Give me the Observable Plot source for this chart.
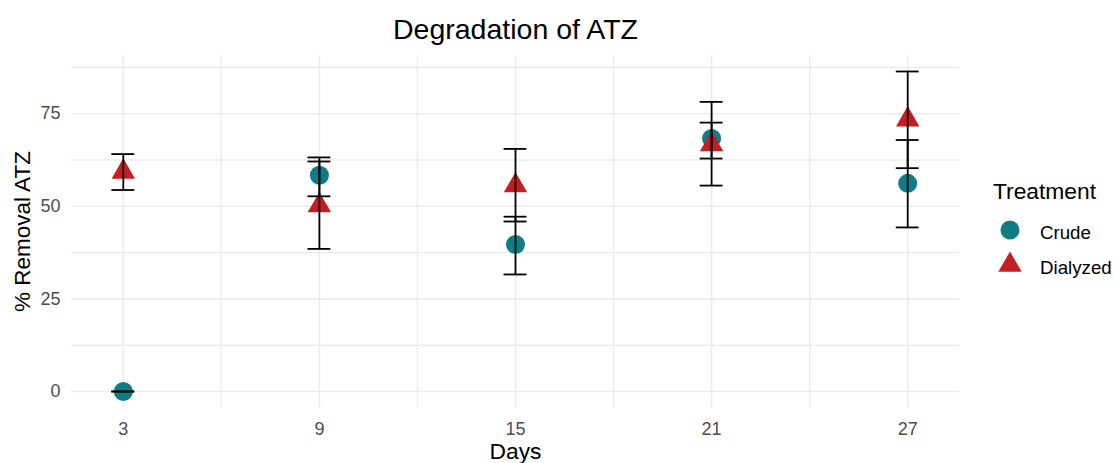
<!DOCTYPE html>
<html>
<head>
<meta charset="utf-8">
<script src="https://cdn.jsdelivr.net/npm/d3@7"></script>
<script src="https://cdn.jsdelivr.net/npm/@observablehq/plot@0.6"></script>
<style>
  html, body { margin: 0; padding: 0; background: white; }
  #chart { position: relative; width: 1114px; height: 463px; overflow: hidden; }
</style>
</head>
<body>
<div id="chart"></div>
<script>
// ---- data ----
const days = [3, 9, 15, 21, 27];
const treatments = ["Crude", "Dialyzed"];
const crudeMean = [0, 58.4, 39.7, 68.3, 56.2];
const crudeLow = [0, 52.7, 31.6, 62.9, 44.3];
const crudeHigh = [0, 63.2, 47.2, 72.6, 67.9];
const dialyzedMean = [59.3, 50.2, 55.6, 66.7, 73.4];
const dialyzedLow = [54.4, 38.5, 45.9, 55.6, 60.3];
const dialyzedHigh = [64.1, 62.1, 65.5, 78.2, 86.4];
const yTicks = [0, 25, 50, 75];
const yMinor = [12.5, 37.5, 62.5, 87.5];
const xTicks = [3, 9, 15, 21, 27];
const xMinor = [6, 12, 18, 24];

const colors = {Crude: "#107C84", Dialyzed: "#C41E24"};
const capHalf = 0.35;

const crude = days.map((d, i) => ({day: d, treatment: "Crude", mean: crudeMean[i], low: crudeLow[i], high: crudeHigh[i]}));
const dialyzed = days.map((d, i) => ({day: d, treatment: "Dialyzed", mean: dialyzedMean[i], low: dialyzedLow[i], high: dialyzedHigh[i]}));
const rows = crude.concat(dialyzed);

const grid = "#ebebeb";
const font = "'Liberation Sans', Arial, Helvetica, sans-serif";

const plot = Plot.plot({
  width: 1114,
  height: 463,
  marginTop: 55,
  marginBottom: 56,
  marginLeft: 71,
  marginRight: 155,
  style: {fontFamily: font, fontSize: "18px", color: "#4d4d4d", background: "white", overflow: "visible"},
  x: {domain: [1.415, 28.585], ticks: xTicks, tickSize: 0, tickPadding: 15, label: null},
  y: {domain: [-4.32, 90.72], ticks: yTicks, tickSize: 0, tickPadding: 11, label: null},
  marks: [
    Plot.ruleY(yMinor, {stroke: grid, strokeWidth: 1.4}),
    Plot.ruleY(yTicks, {stroke: grid, strokeWidth: 1.6}),
    Plot.ruleX(xMinor, {stroke: grid, strokeWidth: 1.4}),
    Plot.ruleX(xTicks, {stroke: grid, strokeWidth: 1.6}),
    Plot.dot(crude, {x: "day", y: "mean", r: 9.5, symbol: "circle", fill: colors.Crude}),
    Plot.dot(dialyzed, {x: "day", y: "mean", r: 8.7, symbol: "triangle", fill: colors.Dialyzed}),
    Plot.ruleX(rows, {x: "day", y1: "low", y2: "high", stroke: "black", strokeWidth: 1.8}),
    Plot.ruleY(rows, {y: "low", x1: d => d.day - capHalf, x2: d => d.day + capHalf, stroke: "black", strokeWidth: 1.8}),
    Plot.ruleY(rows, {y: "high", x1: d => d.day - capHalf, x2: d => d.day + capHalf, stroke: "black", strokeWidth: 1.8}),
    Plot.text(["Degradation of ATZ"], {text: d => d, frameAnchor: "top", dy: -26, lineAnchor: "middle", textAnchor: "middle", fontSize: 28.5, fill: "black"}),
    Plot.text(["Days"], {text: d => d, frameAnchor: "bottom", dy: 44, lineAnchor: "middle", textAnchor: "middle", fontSize: 22.8, fill: "black"}),
    Plot.text(["% Removal ATZ"], {text: d => d, frameAnchor: "left", dx: -48.5, rotate: -90, lineAnchor: "middle", textAnchor: "middle", fontSize: 22.5, fill: "black"})
  ]
});

// legend
const svg = d3.select(plot);
const lg = svg.append("g").attr("font-family", font).attr("text-anchor", "start");
lg.append("text").attr("x", 993).attr("y", 191).attr("dy", "0.36em").attr("font-size", 22.8).attr("fill", "black").text("Treatment");
const keyY = [230, 265];
const symFns = {Crude: d3.symbolCircle, Dialyzed: d3.symbolTriangle};
const symR = {Crude: 9.5, Dialyzed: 8.7};
treatments.forEach((t, i) => {
  lg.append("path")
    .attr("transform", `translate(1010,${keyY[i]})`)
    .attr("d", d3.symbol(symFns[t], Math.PI * symR[t] * symR[t])())
    .attr("fill", colors[t]);
  lg.append("text").attr("x", 1040).attr("y", keyY[i] + 2).attr("dy", "0.36em")
    .attr("font-size", 18.7).attr("fill", "black").text(t);
});

document.getElementById("chart").appendChild(plot);
</script>
</body>
</html>
